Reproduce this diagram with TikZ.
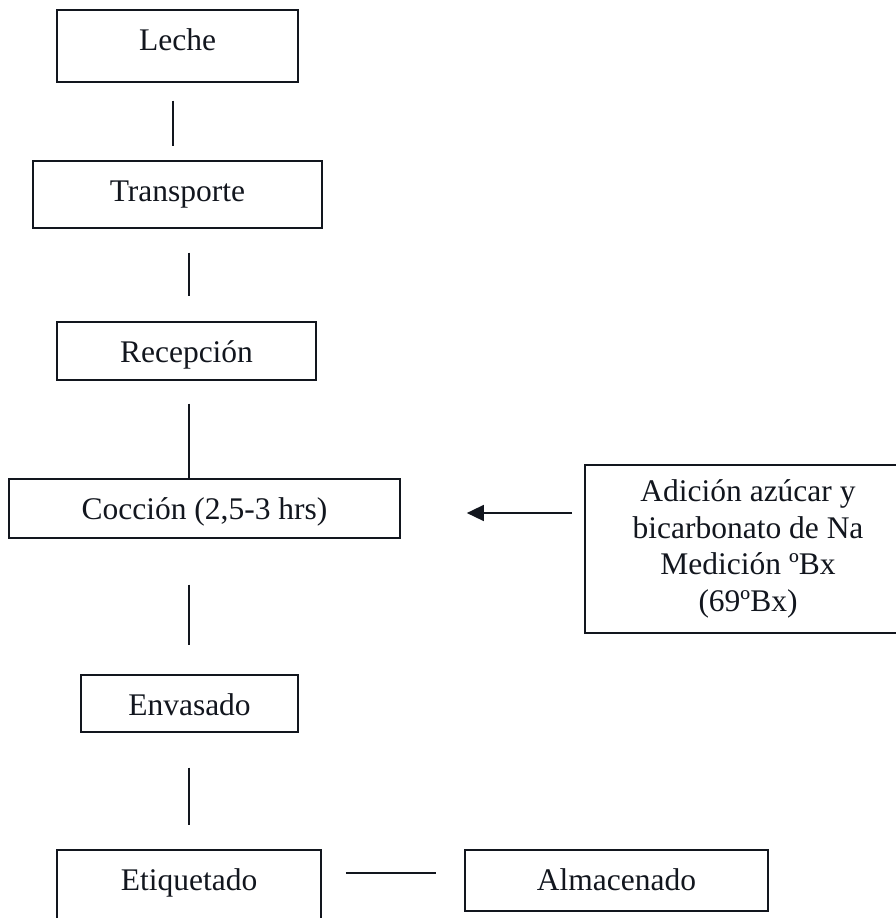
\documentclass[tikz,border=0pt]{standalone}
\usepackage{fontspec}
\setmainfont{Liberation Serif}
\usetikzlibrary{arrows.meta,calc}
\definecolor{ink}{RGB}{18,22,30}
\begin{document}
\begin{tikzpicture}[x=1pt,y=-1pt,
  boxed/.style={draw=ink, line width=1.7pt, rectangle, inner xsep=0pt, inner ysep=0pt,
    text=ink, font=\fontsize{31.5}{36.7}\selectfont},
  stage/.style={boxed, anchor=north, text height=41pt},
  link/.style={draw=ink, line width=1.6pt},
  feedarrow/.style={link, -{Triangle[length=17pt,width=16pt]}}]
\useasboundingbox (0,0) rectangle (896,918);

% process stages
\node[stage, minimum width=241pt, text depth=31pt] (leche)      at (177.5,9)   {Leche};
\node[stage, minimum width=289pt, text depth=26pt] (transporte) at (177.5,160) {Transporte};
\node[stage, minimum width=259pt, text depth=17pt] (recepcion)  at (186.5,321) {Recepción};
\node[stage, minimum width=391pt, text depth=18pt] (coccion)    at (204.5,478) {Cocción (2,5-3 hrs)};
\node[stage, minimum width=217pt, text depth=16pt] (envasado)   at (189.5,674) {Envasado};
\node[stage, minimum width=264pt, text depth=45pt] (etiquetado) at (189,849)   {Etiquetado};
\node[stage, minimum width=303pt, text depth=20pt] (almacenado) at (616.5,849) {Almacenado};

% side input
\node[boxed, align=center, minimum width=326pt, minimum height=168pt] (adicion) at (748,549)
  {Adición azúcar y\\bicarbonato de Na\\Medición ºBx\\(69ºBx)};

% connectors
\coordinate (spineA) at (173,0);
\coordinate (spine)  at (189,0);
\draw[link, shorten <=18pt, shorten >=14pt] (spineA |- leche.south) -- (spineA |- transporte.north);
\draw[link, shorten <=24pt, shorten >=25pt] (spine |- transporte.south) -- (spine |- recepcion.north);
\draw[link, shorten <=23pt] (spine |- recepcion.south) -- (spine |- coccion.north);
\draw[link, shorten <=46pt, shorten >=29pt] (spine |- coccion.south) -- (spine |- envasado.north);
\draw[link, shorten <=35pt, shorten >=24pt] (spine |- envasado.south) -- (spine |- etiquetado.north);

\coordinate (shelf) at ([yshift=-24pt]etiquetado.north east);
\draw[link, shorten <=24pt, shorten >=28pt] (shelf) -- (shelf -| almacenado.west);

\coordinate (feed) at (572,513);
\draw[feedarrow, shorten >=66pt] (feed) -- (feed -| coccion.east);
\end{tikzpicture}
\end{document}
